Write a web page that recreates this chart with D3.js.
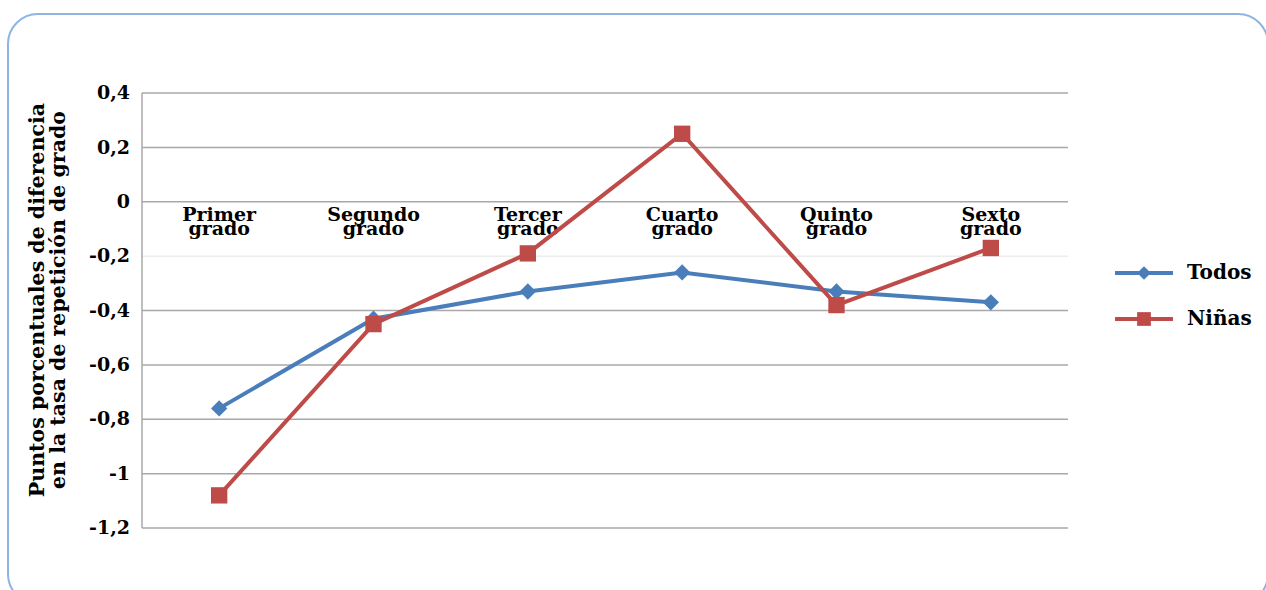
<!DOCTYPE html>
<html><head><meta charset="utf-8">
<script src="https://cdn.jsdelivr.net/npm/d3@7/dist/d3.min.js"></script>
<style>body{margin:0;background:#fff}svg{display:block}</style>
</head><body>
<svg id="c" width="1266" height="590"></svg>
<script>
const categories = [["Primer","grado"],["Segundo","grado"],["Tercer","grado"],["Cuarto","grado"],["Quinto","grado"],["Sexto","grado"]];
const todos = [-0.76, -0.43, -0.33, -0.26, -0.33, -0.37];
const ninas = [-1.08, -0.45, -0.19, 0.25, -0.38, -0.17];
const yTicks = [0.4, 0.2, 0, -0.2, -0.4, -0.6, -0.8, -1, -1.2];
const seriesNames = ["Todos", "Niñas"];
const yTitle = ["Puntos porcentuales de diferencia", "en la tasa de repetición de grado"];

const svg = d3.select("#c");
const font = "'DejaVu Serif', serif";
svg.append("rect").attr("x",8).attr("y",14).attr("width",1260).attr("height",590).attr("rx",30)
  .attr("fill","#fff").attr("stroke","#8cb4e4").attr("stroke-width",2);

const L=142, R=1068, T=93, B=528;
const x = d3.scaleBand().domain(d3.range(categories.length)).range([L,R]);
const y = d3.scaleLinear().domain([-1.2,0.4]).range([B,T]);

// gridlines
svg.append("g").selectAll("line").data(yTicks).join("line")
  .attr("x1",L).attr("x2",R).attr("y1",d=>y(d)).attr("y2",d=>y(d))
  .attr("stroke",d=>Math.abs(d+0.2)<1e-9?"#ececec":"#a8a8a8").attr("stroke-width",1.5);
svg.append("line").attr("x1",L).attr("x2",L).attr("y1",T).attr("y2",B).attr("stroke","#a8a8a8").attr("stroke-width",1.5);

// y axis labels
const yAxis = d3.axisLeft(y).tickValues(yTicks).tickSize(0).tickPadding(12)
  .tickFormat(d=>String(Math.round(d*10)/10).replace(".",","));
const ga = svg.append("g").attr("transform",`translate(${L},0)`).call(yAxis);
ga.select(".domain").remove();
ga.selectAll("text").attr("font-family",font).attr("font-weight","bold").attr("font-size",19).attr("fill","#000").attr("dy","0.3em");

// y title
const yt = svg.append("text").attr("transform","translate(46,300) rotate(-90)")
  .attr("text-anchor","middle").attr("font-family",font).attr("font-weight","bold").attr("font-size",20.5).attr("fill","#000");
yt.selectAll("tspan").data(yTitle).join("tspan").attr("x",0).attr("dy",(d,i)=>i?21:-2).text(d=>d);

// category labels
const cg = svg.append("g");
categories.forEach((c,i)=>{
  const t = cg.append("text").attr("x",x(i)+x.bandwidth()/2).attr("y",221).attr("text-anchor","middle")
    .attr("font-family",font).attr("font-weight","bold").attr("font-size",19).attr("fill","#000");
  c.forEach((s,j)=>t.append("tspan").attr("x",x(i)+x.bandwidth()/2).attr("dy",j?13.5:0).text(s));
});

const cx = i=>x(i)+x.bandwidth()/2;
const line = d3.line().x((d,i)=>cx(i)).y(d=>y(d));
const blue="#4a7ebb", red="#be4b48";
svg.append("path").datum(todos).attr("d",line).attr("fill","none").attr("stroke",blue).attr("stroke-width",4);
svg.append("path").datum(ninas).attr("d",line).attr("fill","none").attr("stroke",red).attr("stroke-width",4);
const diamond = d3.symbol().type(d3.symbolDiamond2).size(170);
const square = d3.symbol().type(d3.symbolSquare2).size(340);
svg.append("g").selectAll("path").data(todos).join("path").attr("d",diamond)
  .attr("transform",(d,i)=>`translate(${cx(i)},${y(d)})`).attr("fill",blue);
svg.append("g").selectAll("path").data(ninas).join("path").attr("d",square)
  .attr("transform",(d,i)=>`translate(${cx(i)},${y(d)})`).attr("fill",red);

// legend
const leg = [{n:seriesNames[0],c:blue,s:d3.symbol().type(d3.symbolDiamond2).size(120),y:273},
             {n:seriesNames[1],c:red,s:d3.symbol().type(d3.symbolSquare2).size(240),y:319}];
leg.forEach(l=>{
  svg.append("line").attr("x1",1115).attr("x2",1173).attr("y1",l.y).attr("y2",l.y).attr("stroke",l.c).attr("stroke-width",4);
  svg.append("path").attr("d",l.s).attr("transform",`translate(1144,${l.y})`).attr("fill",l.c);
  svg.append("text").attr("x",1187).attr("y",l.y+6).attr("font-family",font).attr("font-weight","bold").attr("font-size",20).attr("fill","#000").text(l.n);
});
</script>
</body></html>
